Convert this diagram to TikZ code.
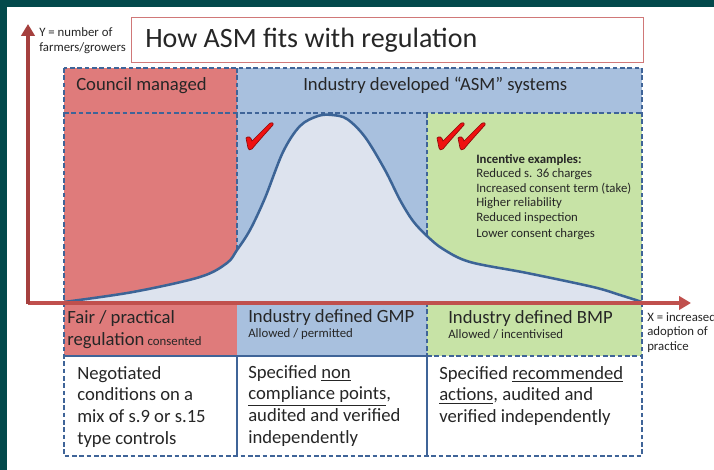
\documentclass[tikz,border=0pt]{standalone}
\usepackage{fontspec}
\setmainfont{Carlito}
\usetikzlibrary{arrows.meta}

\definecolor{bgteal}{HTML}{03494B}
\definecolor{councilred}{HTML}{DF7B7B}
\definecolor{industryblue}{HTML}{A8C0DE}
\definecolor{bmpgreen}{HTML}{C7E3A6}
\definecolor{bellfill}{HTML}{DDE3EE}
\definecolor{bellline}{HTML}{3C6496}
\definecolor{edgeblue}{HTML}{3F6498}
\definecolor{axisdark}{HTML}{A5403E}
\definecolor{axisred}{HTML}{C0504D}
\definecolor{titleedge}{HTML}{D07878}
\definecolor{ink}{HTML}{262626}
\definecolor{tickred}{HTML}{F01010}
\definecolor{tickdark}{HTML}{8C0A0A}

\begin{document}
\begin{tikzpicture}[x=0.75pt,y=-0.75pt,
  frame/.style={draw=edgeblue, line width=1.1pt, dash pattern=on 3.5pt off 2pt},
  solidedge/.style={draw=edgeblue, line width=1.1pt},
  lbl/.style={inner sep=0pt, anchor=base west, text=ink},
  blk/.style={inner sep=0pt, anchor=north west, text=ink, align=left},
  big/.style={font=\fontsize{14}{16.3}\selectfont},
  small/.style={font=\fontsize{9.6}{11.1}\selectfont},
  tick/.pic={
    \filldraw[fill=tickred, draw=tickdark, line width=0.5pt]
      (-4,-11) .. controls (-2,-13) and (1,-12.5) .. (2,-8)
      -- (19,-25) .. controls (21,-27) and (24,-26.5) .. (23,-24)
      .. controls (14,-14) and (6,-5) .. (2,0)
      .. controls (0,1.5) and (-2,1) .. (-2,-1)
      -- cycle;
  }
]
\useasboundingbox (0,0) rectangle (714,470);

% page background
\fill[bgteal] (0,0) rectangle (714,470);
\fill[white] (7,7) rectangle (714,470);

% coloured panels
\fill[councilred] (64,68) rectangle (237,356);
\fill[industryblue] (237,68) rectangle (642,113);
\fill[industryblue] (237,113) rectangle (427,356);
\fill[bmpgreen] (427,113) rectangle (642,356);

% adoption curve
\coordinate (c0) at (64,302);
\coordinate (cg) at (237,250);
\coordinate (cb) at (427,236);
\coordinate (c1) at (642,302);
\path[fill=bellfill] (c0) -- plot[smooth, tension=0.55] coordinates {
  (64,302) (133,292) (200,277) (227,263) (237,250) (250,230) (265,198)
  (283,152) (300,126) (318,116) (332,115) (347,119) (365,137) (385,170)
  (400,200) (413,221) (427,236) (443,249) (470,262) (527,273) (593,287)
  (620,295) (642,302)} -- cycle;

% panel edges
\draw[frame] (237,113) -- (cg);
\draw[frame] (427,113) -- (cb);
\draw[frame] (64,113) -- (642,113);
\draw[frame] (237,68) -- (237,113);
\draw[frame] (427,302) -- (427,356);
\draw[solidedge] (64,356) -- (427,356);
\draw[frame] (427,356) -- (642,356);
\draw[solidedge] (237,356) -- (237,456);
\draw[solidedge] (427,356) -- (427,456);
\draw[frame] (64,68) rectangle (642,456);

\draw[bellline, line width=1.9pt] plot[smooth, tension=0.55] coordinates {
  (64,302) (133,292) (200,277) (227,263) (237,250) (250,230) (265,198)
  (283,152) (300,126) (318,116) (332,115) (347,119) (365,137) (385,170)
  (400,200) (413,221) (427,236) (443,249) (470,262) (527,273) (593,287)
  (620,295) (642,302)};

% axes
\coordinate (O) at (28,303);
\coordinate (Ocorner) at (28,304.2);
\coordinate (ytip) at (28,24);
\coordinate (xtip) at (691,303);
\draw[axisred, line width=2.3pt, -{Triangle[width=10pt,length=9pt]}] (O) -- (xtip);
\draw[axisdark, line width=2.3pt, -{Triangle[width=10pt,length=9pt]}] (Ocorner) -- (ytip);

% title
\node[draw=titleedge, line width=0.8pt, fill=white, minimum width=384pt,
  minimum height=33.75pt, inner sep=0pt, anchor=north west] (titlebox) at (131,17) {};
\node[lbl, font=\fontsize{21}{24}\selectfont] (title) at (145,48) {How ASM fits with regulation};

% axis labels
\node[lbl, small] (ylab1) at (39,37) {Y = number of};
\node[lbl, small] (ylab2) at (39,52) {farmers/growers};
\node[lbl, small] (xlab1) at (647,321) {X = increased};
\node[lbl, small] (xlab2) at (647,335) {adoption of};
\node[lbl, small] (xlab3) at (647,350) {practice};

% header row
\node[lbl, big] (council) at (76,91) {Council managed};
\node[lbl, big] (industry) at (303,91) {Industry developed “ASM” systems};

% ticks
\pic at (250,149) {tick};
\pic at (441,149) {tick};
\pic at (462,149) {tick};

% incentive list
\node[lbl, small] (inc0) at (476,164) {\textbf{Incentive examples:}};
\node[lbl, small] (inc1) at (476,178) {Reduced s. 36 charges};
\node[lbl, small] (inc2) at (476,193) {Increased consent term (take)};
\node[lbl, small] (inc3) at (476,207) {Higher reliability};
\node[lbl, small] (inc4) at (476,222) {Reduced inspection};
\node[lbl, small] (inc5) at (476,238) {Lower consent charges};

% label row
\node[lbl, big] (fair1) at (67,324) {Fair / practical};
\node[lbl, big] (fair2) at (67,345) {regulation\,{\fontsize{9.6}{11}\selectfont consented}};
\node[lbl, big] (gmp) at (248,323) {Industry defined GMP};
\node[lbl, small] (gmpsub) at (248,338) {Allowed / permitted};
\node[lbl, big] (bmp) at (448,324) {Industry defined BMP};
\node[lbl, small] (bmpsub) at (448,339) {Allowed / incentivised};

% description row
\node[blk, big] (desc1) at (77,366) {Negotiated\\conditions on a\\mix of s.9 or s.15\\type controls};
\node[blk, big] (desc2) at (248,365) {Specified \underline{non}\\\underline{compliance points},\\audited and verified\\independently};
\node[blk, big] (desc3) at (439,366) {Specified \underline{recommended}\\\underline{actions}, audited and\\verified independently};

\end{tikzpicture}
\end{document}
